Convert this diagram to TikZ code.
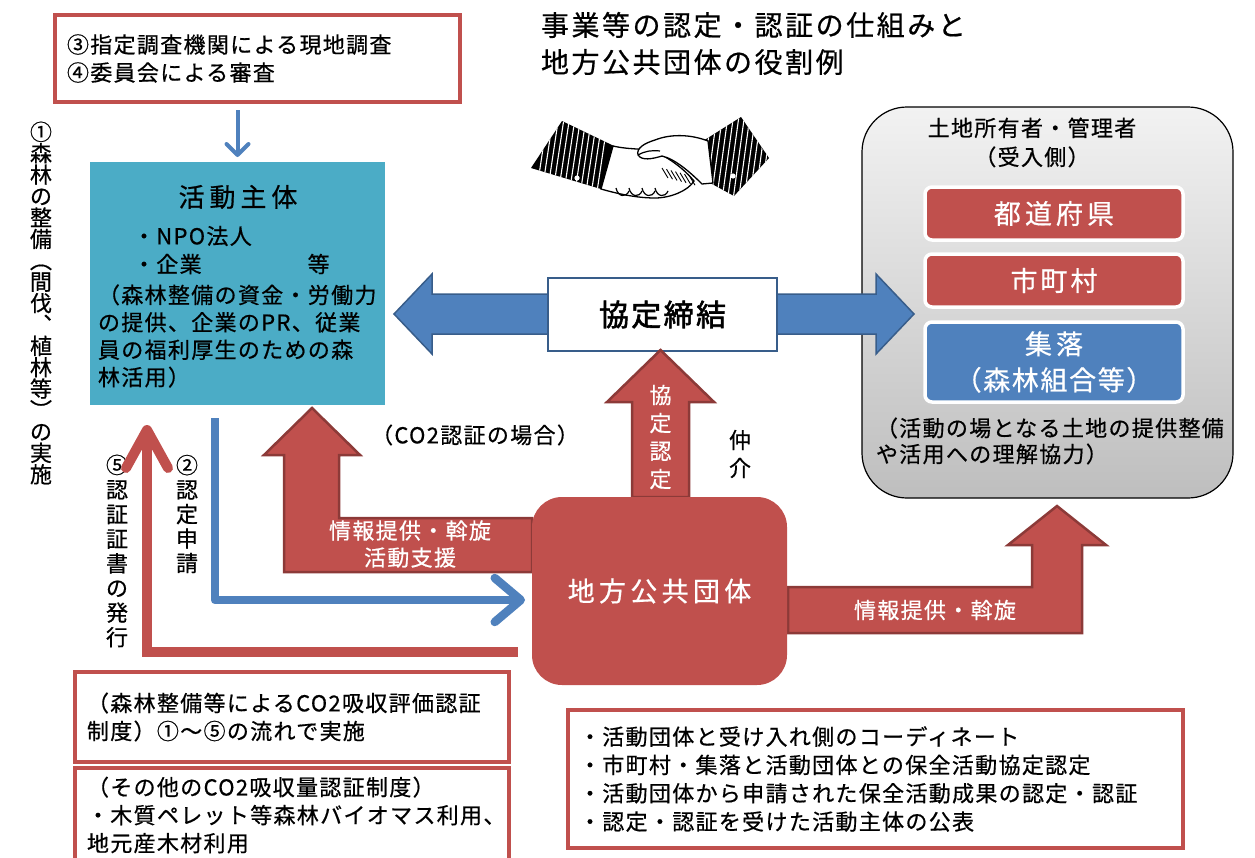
\documentclass[tikz,border=0pt]{standalone}
\usepackage{fontspec}
\setmainfont{Noto Sans CJK JP}[LetterSpace=6,FakeBold=0.6]
\newfontfamily\boldjp{Noto Sans CJK JP}[FakeBold=2,LetterSpace=8]
\usetikzlibrary{arrows.meta,calc}

\definecolor{accred}{HTML}{C0504D}
\definecolor{accredd}{HTML}{8C3A38}
\definecolor{accblue}{HTML}{4F81BD}
\definecolor{accblued}{HTML}{385D8A}
\definecolor{accteal}{HTML}{4BACC6}
\definecolor{panelTop}{HTML}{F2F2F2}
\definecolor{panelBot}{HTML}{BEBEBE}

\newcommand{\fsz}[2]{\fontsize{#1}{#2}\selectfont}
\newcommand{\spaced}[1]{\addfontfeature{LetterSpace=#1}}

\begin{document}
\begin{tikzpicture}[x=1pt,y=-1pt,
  every node/.style={inner sep=0pt, outer sep=0pt},
  notebox/.style={draw=accred, line width=3.5pt, fill=white, align=left,
    inner xsep=12pt, font=\fsz{22}{28}},
  landbox/.style={draw=white, line width=3.5pt, rounded corners=7pt,
    text=white, minimum width=258pt, align=center},
  redshape/.style={fill=accred, draw=accredd, line width=2.5pt, line join=miter},
  blueflow/.style={draw=accblue, line width=8.5pt, line join=round},
  redflow/.style={draw=accred, line width=10pt, line join=miter},
  plain/.style={font=\fsz{22}{28}, align=left}
]
\clip (0,0) rectangle (1255,857);

% ---------- heading ----------
\node[anchor=west, align=left, font=\fsz{28}{37}\spaced{9}] (title) at (541,43.5)
  {事業等の認定・認証の仕組みと\\地方公共団体の役割例};

% ---------- handshake ----------
\begin{scope}
  \clip (531,168) -- (562,121) -- (614,146) -- (601,189) -- cycle;
  \fill[black] (520,110) rectangle (620,200);
  \foreach \i in {0,...,11}
    \draw[white, line width=1.1pt] (548+\i*5.5,115) -- (536+\i*5.5,195);
\end{scope}
\begin{scope}
  \clip (703,141) -- (741,117) -- (769,158) -- (734,196) -- (712,184) -- cycle;
  \fill[black] (695,110) rectangle (775,200);
  \foreach \i in {0,...,12}
    \draw[white, line width=1.1pt] (712+\i*5.5,112) -- (700+\i*5.5,200);
\end{scope}
\fill[white] (577,178) circle (2.6pt);
\fill[white] (733,176) circle (2.6pt);
\filldraw[fill=white, draw=black, line width=1.3pt]
  (613,146) .. controls (630,150) and (645,148) .. (655,152)
  .. controls (670,158) and (685,170) .. (694,181)
  .. controls (688,191) and (670,198) .. (655,198)
  .. controls (635,198) and (615,193) .. (601,189) -- cycle;
\foreach \fx in {616,629,642,655}
  \draw[black, line width=1.2pt] (\fx,188) .. controls (\fx+2,197) and (\fx+10,198) .. (\fx+13,191);
\filldraw[fill=white, draw=black, line width=1.3pt]
  (708,141) .. controls (690,134) and (670,134) .. (655,140)
  .. controls (645,143) and (636,148) .. (638,155)
  .. controls (642,161) and (652,159) .. (662,156)
  .. controls (675,159) and (690,172) .. (702,184) -- (713,183) -- cycle;
\foreach \hx in {0,...,6}
  \draw[black, line width=0.9pt] (662+\hx*4.5,168+\hx*1.2) -- (668+\hx*4.5,178+\hx*1.2);
\draw[black, line width=1.2pt] (638,155) .. controls (645,151) and (652,150) .. (660,151);

% ---------- top-left note ----------
\node[notebox, text width=381pt, minimum height=87pt] (inspect) at (257.5,58.5)
  {③指定調査機関による現地調査\\④委員会による審査};

% ---------- activity body ----------
\node[fill=accteal, minimum width=295pt, minimum height=243pt] (act) at (237.5,283.5) {};
\node[font=\fsz{26}{30}\spaced{19}] (actT) at (238,197) {活動主体};
\node[anchor=west, font=\fsz{22}{28}] (actA) at (133,236) {・NPO法人};
\node[anchor=west, font=\fsz{22}{28}] (actB) at (133,264) {・企業\hspace{106pt}等};
\node[anchor=west, plain, font=\fsz{22}{27.4}] (actC) at (98,336)
  {（森林整備の資金・労働力\\の提供、企業のPR、従業\\員の福利厚生のための森\\林活用）};

% ---------- vertical labels ----------
\node[align=center, font=\fsz{22}{21.4}] (v1) at (41,303)
  {①\\森\\林\\の\\整\\備\\︵\\間\\伐\\︑\\植\\林\\等\\︶\\の\\実\\施};
\node[align=center, font=\fsz{22}{24.6}] (v5) at (117,551)
  {⑤\\認\\証\\証\\書\\の\\発\\行};
\node[align=center, font=\fsz{22}{24.5}] (v2) at (187,514)
  {②\\認\\定\\申\\請};

% ---------- landowner panel ----------
\node[draw=black, line width=1.2pt, top color=panelTop, bottom color=panelBot,
  rounded corners=45pt, minimum width=371pt, minimum height=391pt] (land) at (1047.5,302.5) {};
\node[align=center, font=\fsz{22}{29}] (landT) at (1032,142.5) {土地所有者・管理者\\（受入側）};
\node[landbox, fill=accred, minimum height=53pt, font=\fsz{27}{30}\spaced{15}] (pref) at (1054,213.5) {都道府県};
\node[landbox, fill=accred, minimum height=53pt, font=\fsz{27}{30}\spaced{11}] (city) at (1054,280.5) {市町村};
\node[landbox, fill=accblue, minimum height=80pt, font=\fsz{27}{36}] (hamlet) at (1054,362)
  {{\spaced{15}集落}\\（森林組合等）};
\node[anchor=west, plain, font=\fsz{22}{26}] (landC) at (876,441)
  {（活動の場となる土地の提供整備\\や活用への理解協力）};

% ---------- agreement ----------
\filldraw[fill=accblue, draw=accblued, line width=1.5pt]
  (394,314) -- (432,274) -- (432,294) -- (876,294) -- (876,274) -- (914,314)
  -- (876,354) -- (876,334) -- (432,334) -- (432,354) -- cycle;
\node[draw=accblued, line width=2.5pt, fill=white, minimum width=229pt, minimum height=73pt,
  font=\boldjp\fsz{30}{32}] (agree) at (662.5,314.5) {協定締結};

% ---------- local government and its arrows ----------
\filldraw[redshape] (660.5,350) -- (714,402) -- (689,402) -- (689,497)
  -- (632,497) -- (632,402) -- (607,402) -- cycle;
\node[align=center, text=white, font=\fsz{22}{28}] (certT) at (660.5,437) {協\\定\\認\\定};
\node[align=center, font=\fsz{22}{28}] (med) at (740,454) {仲\\介};
\node[font=\fsz{22}{28}] (co2) at (475,435) {（CO2認証の場合）};

\filldraw[redshape] (312,408) -- (360,455) -- (339,455) -- (339,518) -- (532,518)
  -- (532,572) -- (284,572) -- (284,455) -- (264,455) -- cycle;
\node[align=center, text=white, font=\fsz{22}{27}] (supT) at (410,544) {情報提供・斡旋\\活動支援};

\filldraw[redshape] (788,587) -- (1032,587) -- (1032,545) -- (1008,545) -- (1057,506)
  -- (1106,545) -- (1082,545) -- (1082,633) -- (788,633) -- cycle;
\node[text=white, font=\fsz{22}{28}] (infT) at (935,610) {情報提供・斡旋};

\node[fill=accred, rounded corners=30pt, minimum width=255pt, minimum height=188pt,
  text=white, font=\fsz{27}{30}\spaced{16}] (lg) at (659.5,591) {地方公共団体};

% ---------- flow lines ----------
\draw[draw=accblue, line width=4pt, shorten <=8pt, shorten >=5pt,
  -{Straight Barb[length=11pt,width=22pt,round]}] (inspect.south -| act.north) -- (act.north);
\draw[blueflow, -{Straight Barb[length=26pt,width=44pt,round]}]
  ($(act.south)+(-22.5,13)$) |- ($(lg.west)+(-7,9)$);
\draw[redflow, -{Straight Barb[length=38pt,width=42pt,round]}]
  ($(lg.west)+(-14,61)$) -| ($(act.south)+(-90.5,20)$);

% ---------- notes ----------
\node[notebox, text width=410pt, minimum height=90pt] (noteA) at (292,717)
  {（森林整備等によるCO2吸収評価認証\\制度）①～⑤の流れで実施};
\node[notebox, text width=410pt, minimum height=94pt] (noteB) at (292,815)
  {（その他のCO2吸収量認証制度）\\・木質ペレット等森林バイオマス利用、\\地元産木材利用};
\node[notebox, text width=593pt, inner xsep=11pt, minimum height=138pt, font=\fsz{22}{28.3}] (noteC) at (875.5,779)
  {・活動団体と受け入れ側のコーディネート\\・市町村・集落と活動団体との保全活動協定認定\\・活動団体から申請された保全活動成果の認定・認証\\・認定・認証を受けた活動主体の公表};
\end{tikzpicture}
\end{document}
